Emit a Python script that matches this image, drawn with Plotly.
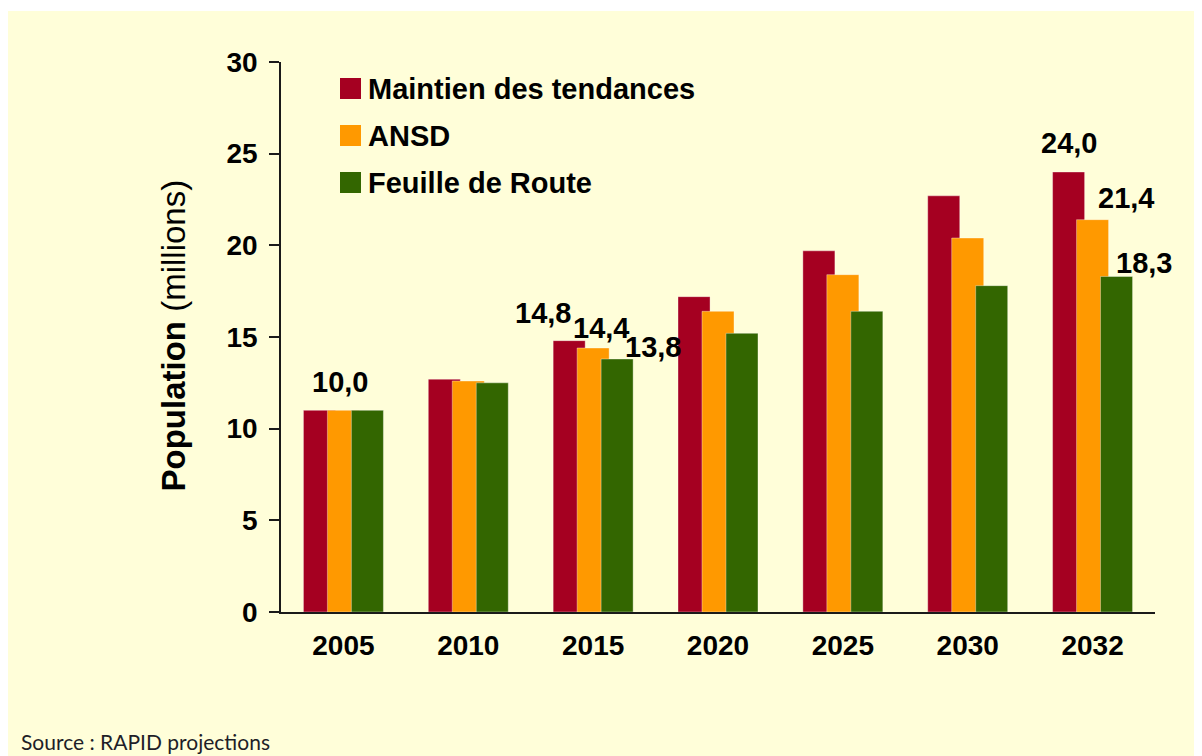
import plotly.graph_objects as go

# ---------------- data ----------------
years = ["2005", "2010", "2015", "2020", "2025", "2030", "2032"]
series_names = ["Maintien des tendances", "ANSD", "Feuille de Route"]
maintien = [11.0, 12.7, 14.8, 17.2, 19.7, 22.7, 24.0]
ansd = [11.0, 12.6, 14.4, 16.4, 18.4, 20.4, 21.4]
feuille = [11.0, 12.5, 13.8, 15.2, 16.4, 17.8, 18.3]
series_values = [maintien, ansd, feuille]
colors = ["#A50021", "#FF9900", "#336600"]

# data labels as printed on the chart: (year, series index, text)
label_years = ["2005", "2015", "2015", "2015", "2032", "2032", "2032"]
label_series = [1, 0, 1, 2, 0, 1, 2]
label_texts = ["10,0", "14,8", "14,4", "13,8", "24,0", "21,4", "18,3"]

y_ticks = [0, 5, 10, 15, 20, 25, 30]
source_text = "Source : RAPID projections"

# ---------------- layout geometry ----------------
OFF = 8                      # page offset of the figure (body margin)
W, H = 1194, 748
L, T = 281 - OFF, 62 - OFF
R = W - (1155 - OFF)
B = H - (612 - OFF)
PW, PH = W - L - R, H - T - B


def px_x(xpage):
    return (xpage - OFF - L) / PW


def px_y(ypage):
    return (H - B - (ypage - OFF)) / PH


FONT = "Arial, 'Liberation Sans', sans-serif"
BG = "#FFFED9"

bar_w = 0.2565
step = 0.192
offsets = [-bar_w / 2 - step, -bar_w / 2, -bar_w / 2 + step]
xpos = list(range(len(years)))

fig = go.Figure()
for name, vals, col, off in zip(series_names, series_values, colors, offsets):
    fig.add_trace(go.Bar(
        x=xpos, y=vals, name=name,
        width=bar_w, offset=off,
        marker=dict(color=col, line=dict(color="rgba(255,255,255,0.45)", width=0.8)),
        showlegend=False,
    ))

annotations = []
# data labels (anchored on the centre of their bar)
shift_x = [-3, -26, 8, 36, 0, 33, 27]
shift_y = [28, 28, 20, 12, 29, 22, 14]
for yr, si, txt, dx, dy in zip(label_years, label_series, label_texts, shift_x, shift_y):
    i = years.index(yr)
    val = series_values[si][i]
    annotations.append(dict(
        x=i + offsets[si] + bar_w / 2, y=val, xref="x", yref="y", text=txt,
        showarrow=False, xanchor="center", yanchor="middle", xshift=dx, yshift=dy,
        font=dict(family=FONT, size=29, color="#000000", weight="bold"),
    ))

# legend (custom, to get the large square keys)
shapes = []
leg_rows = [88.5, 135.5, 182.5]
for name, col, cy in zip(series_names, colors, leg_rows):
    shapes.append(dict(
        type="rect", xref="paper", yref="paper",
        x0=px_x(340), x1=px_x(361), y0=px_y(cy + 10.5), y1=px_y(cy - 10.5),
        fillcolor=col, line=dict(width=0), layer="above",
    ))
    annotations.append(dict(
        x=px_x(366), y=px_y(cy), xref="paper", yref="paper", text=name,
        showarrow=False, xanchor="left", yanchor="middle",
        font=dict(family=FONT, size=29, color="#000000", weight="bold"),
    ))

# y axis title
annotations.append(dict(
    x=px_x(172.5), y=px_y(336), xref="paper", yref="paper",
    text="<b>Population</b> (millions)", textangle=-90, showarrow=False,
    xanchor="center", yanchor="middle",
    font=dict(family=FONT, size=33, color="#000000"),
))

# source
annotations.append(dict(
    x=px_x(19), y=px_y(756), xref="paper", yref="paper",
    text=source_text, showarrow=False, xanchor="left", yanchor="bottom",
    font=dict(family="Lato, 'Open Sans', sans-serif", size=21, color="#1E1E28"),
))

# thin white strip above the cream panel
shapes.insert(0, dict(
    type="rect", xref="paper", yref="paper",
    x0=px_x(0), x1=px_x(1210), y0=px_y(11), y1=px_y(0),
    fillcolor="#FFFFFF", line=dict(width=0), layer="below",
))

fig.update_layout(
    width=W, height=H,
    margin=dict(l=L, r=R, t=T, b=B, pad=0),
    paper_bgcolor=BG,
    plot_bgcolor="rgba(0,0,0,0)",
    barmode="overlay",
    showlegend=False,
    shapes=shapes,
    annotations=annotations,
    xaxis=dict(
        range=[-0.5, len(years) - 0.5],
        tickvals=xpos, ticktext=years,
        showline=True, linecolor="#1A1A1A", linewidth=1.5,
        ticks="", showgrid=False, zeroline=False,
        tickfont=dict(family=FONT, size=28, color="#000000", weight="bold"),
        ticklabelstandoff=8,
    ),
    yaxis=dict(
        range=[0, 30], tickvals=y_ticks,
        showline=True, linecolor="#1A1A1A", linewidth=1.5,
        ticks="outside", ticklen=10, tickwidth=1.5, tickcolor="#1A1A1A",
        showgrid=False, zeroline=False,
        tickfont=dict(family=FONT, size=28, color="#000000", weight="bold"),
        ticklabelstandoff=6,
    ),
)

fig.write_html("out.html")
